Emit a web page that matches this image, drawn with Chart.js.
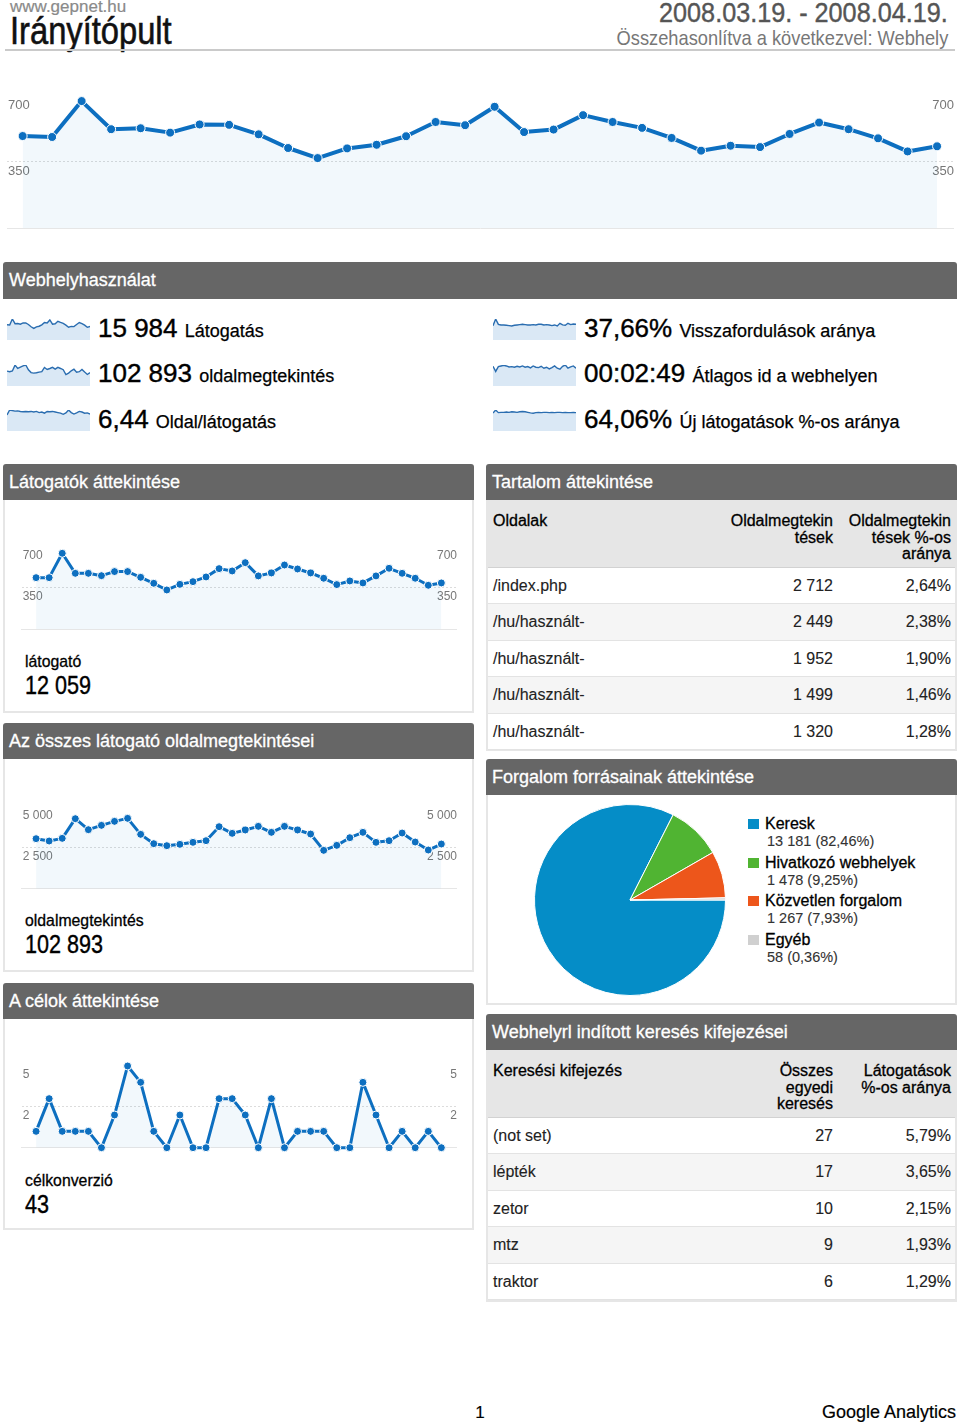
<!DOCTYPE html>
<html><head><meta charset="utf-8">
<script src="https://cdn.jsdelivr.net/npm/chart.js@4.4.1/dist/chart.umd.min.js"></script>
<style>
html,body{margin:0;padding:0;background:#fff;}
body{width:960px;height:1425px;position:relative;overflow:hidden;font-family:"Liberation Sans",Arial,Helvetica,sans-serif;color:#000;-webkit-text-stroke:0.2px;}
.abs{position:absolute;white-space:nowrap;}
.bar{position:absolute;background:#666;color:#fff;font-size:18px;height:36px;line-height:36px;padding-left:6px;box-sizing:border-box;border-radius:3px 3px 0 0;white-space:nowrap;-webkit-text-stroke:0.3px #fff;}
.box{position:absolute;border:2px solid #e6e6e6;border-top:none;box-sizing:border-box;}
canvas{position:absolute;}
.sum{position:absolute;white-space:nowrap;font-size:26px;line-height:30px;color:#000;-webkit-text-stroke:0.4px;}
.sum span{font-size:18px;-webkit-text-stroke:0.25px;}
.tbl{position:absolute;left:486px;width:471px;border:2px solid #e6e6e6;border-top:none;box-sizing:border-box;}
.th{position:absolute;left:0;top:0;width:100%;height:68px;background:#e6e6e6;border-bottom:1px solid #d2d2d2;box-sizing:border-box;font-size:16px;line-height:16.5px;-webkit-text-stroke:0.3px;}
.th div{position:absolute;top:13px;}
.tr{position:absolute;left:0;width:100%;box-sizing:border-box;border-bottom:1px solid #e3e3e3;font-size:16px;color:#222;-webkit-text-stroke:0.1px;}
.tr div{position:absolute;top:0;}
.leg{position:absolute;left:748px;white-space:nowrap;}
.leg i{position:absolute;left:0;top:5px;width:11px;height:10px;}
.leg b{position:absolute;left:17px;top:0;font-weight:normal;font-size:16px;line-height:19px;color:#000;-webkit-text-stroke:0.3px;}
.leg em{position:absolute;left:19px;top:19px;font-style:normal;font-size:14.5px;line-height:17px;color:#333;-webkit-text-stroke:0.1px;}
</style></head>
<body>
<div class="abs" style="left:10px;top:-3px;font-size:17px;line-height:20px;color:#8a8a8a;">www.gepnet.hu</div>
<div class="abs" style="left:10px;top:12px;font-size:38px;line-height:38px;color:#111;transform:scaleX(.86);transform-origin:0 0;-webkit-text-stroke:0.6px;">Irányítópult</div>
<div class="abs" style="right:12px;top:-1px;font-size:28px;line-height:28px;color:#555;transform:scaleX(.9);transform-origin:100% 0;-webkit-text-stroke:0.4px #555;">2008.03.19. - 2008.04.19.</div>
<div class="abs" style="right:12px;top:27px;font-size:21px;line-height:21px;color:#777;transform:scaleX(.87);transform-origin:100% 0;-webkit-text-stroke:0;">Összehasonlítva a következvel: Webhely</div>
<div class="abs" style="left:5px;top:49px;width:950px;height:2px;background:#cacaca;"></div>

<canvas id="mainChart" width="960" height="170" style="left:0;top:70px;"></canvas>

<div class="bar" style="left:3px;top:262px;width:954px;height:37px;line-height:37px;">Webhelyhasználat</div>
<div id="summary"></div>

<div class="bar" style="left:3px;top:464px;width:471px;">Látogatók áttekintése</div>
<div class="box" style="left:3px;top:500px;width:471px;height:213px;"></div>
<canvas id="visitorsChart" width="460" height="130" style="left:10px;top:510px;"></canvas>
<div class="abs" style="left:25px;top:652px;font-size:17px;line-height:20px;transform:scaleX(.93);transform-origin:0 0;-webkit-text-stroke:0.3px;">látogató</div>
<div class="abs" style="left:25px;top:670px;font-size:26px;line-height:30px;transform:scaleX(.83);transform-origin:0 0;-webkit-text-stroke:0.4px;">12 059</div>

<div class="bar" style="left:3px;top:723px;width:471px;">Az összes látogató oldalmegtekintései</div>
<div class="box" style="left:3px;top:759px;width:471px;height:213px;"></div>
<canvas id="pageviewsChart" width="460" height="130" style="left:10px;top:770px;"></canvas>
<div class="abs" style="left:25px;top:911px;font-size:17px;line-height:20px;transform:scaleX(.93);transform-origin:0 0;-webkit-text-stroke:0.3px;">oldalmegtekintés</div>
<div class="abs" style="left:25px;top:929px;font-size:26px;line-height:30px;transform:scaleX(.83);transform-origin:0 0;-webkit-text-stroke:0.4px;">102 893</div>

<div class="bar" style="left:3px;top:983px;width:471px;">A célok áttekintése</div>
<div class="box" style="left:3px;top:1019px;width:471px;height:211px;"></div>
<canvas id="goalsChart" width="460" height="130" style="left:10px;top:1030px;"></canvas>
<div class="abs" style="left:25px;top:1171px;font-size:17px;line-height:20px;transform:scaleX(.93);transform-origin:0 0;-webkit-text-stroke:0.3px;">célkonverzió</div>
<div class="abs" style="left:25px;top:1189px;font-size:26px;line-height:30px;transform:scaleX(.83);transform-origin:0 0;-webkit-text-stroke:0.4px;">43</div>

<div class="bar" style="left:486px;top:464px;width:471px;">Tartalom áttekintése</div>
<div id="pagesTable" class="tbl" style="top:500px;height:251px;"></div>

<div class="bar" style="left:486px;top:759px;width:471px;">Forgalom forrásainak áttekintése</div>
<div class="box" style="left:486px;top:795px;width:471px;height:210px;"></div>
<canvas id="pieChart" width="192" height="192" style="left:534px;top:804px;"></canvas>
<div id="pieLegend"></div>

<div class="bar" style="left:486px;top:1014px;width:471px;">Webhelyrl indított keresés kifejezései</div>
<div id="searchTable" class="tbl" style="top:1050px;height:252px;"></div>

<div class="abs" style="left:470px;width:20px;text-align:center;top:1401px;font-size:17px;line-height:24px;">1</div>
<div class="abs" style="right:4px;top:1400px;font-size:18px;line-height:24px;">Google Analytics</div>

<script>
// ---------------- DATA ----------------
const days = ['03.19','03.20','03.21','03.22','03.23','03.24','03.25','03.26','03.27','03.28','03.29','03.30','03.31',
  '04.01','04.02','04.03','04.04','04.05','04.06','04.07','04.08','04.09','04.10','04.11','04.12','04.13','04.14','04.15','04.16','04.17','04.18','04.19'];
const visits = [484,479,668,520,525,502,545,543,493,421,368,419,438,483,558,541,638,505,518,594,558,527,474,407,433,426,495,555,520,472,403,430];
const visitors = [438,438,646,475,475,455,490,490,441,390,333,381,404,444,515,495,566,453,478,546,512,478,433,379,410,393,453,518,475,433,373,393];
const pageviews = [3050,2907,3070,4269,3598,3863,4107,4290,3314,2745,2623,2704,2826,2928,3781,3375,3578,3802,3436,3802,3578,3334,2338,2643,3110,3436,2826,2928,3395,2846,2358,2724];
const goals = [1,3,1,1,1,0,2,5,4,1,0,2,0,0,3,3,2,0,3,0,1,1,1,0,0,4,2,0,1,0,1,0];
const pagesPerVisit = [5.6,7.3,7.1,6.9,7.0,6.8,6.7,6.8,6.7,6.8,6.6,6.8,6.4,6.6,6.2,6.8,6.7,6.8,6.6,6.4,6.2,5.8,6.3,7.3,6.4,5.9,6.3,6.8,6.6,6.2,6.3,5.9];
const bounceRate = [36.0,52.6,39.3,37.7,37.7,36.8,36.0,35.2,36.8,37.7,38.5,39.3,38.5,37.7,37.7,38.5,37.7,39.3,39.3,37.7,38.5,37.7,36.0,37.7,35.2,41.8,37.7,36.8,41.8,38.5,40.2,39.3];
const avgTime = [184,136,181,187,193,187,178,181,175,184,178,187,175,181,169,187,175,172,184,166,175,160,172,187,166,157,184,196,166,178,187,166];
const newVisits = [62,72,63,64,64,65,64,66,65,64,66,67,66,64,62,61,63,64,63,64,64,63,64,63,64,64,63,64,63,63,64,63];

const mainTicks = [0,350,700];
const visitorTicks = [0,350,700];
const pageviewTicks = [0,2500,5000];
const goalTicks = [0,2.5,5];

const summaryValues = ['15 984','102 893','6,44','37,66%','00:02:49','64,06%'];
const summaryLabels = ['Látogatás','oldalmegtekintés','Oldal/látogatás','Visszafordulások aránya','Átlagos id a webhelyen','Új látogatások %-os aránya'];
const summarySeries = [visits,pageviews,pagesPerVisit,bounceRate,avgTime,newVisits];

const pageHeaders = ['Oldalak','Oldalmegtekin<br>tések','Oldalmegtekin<br>tések %-os<br>aránya'];
const pages = ['/index.php','/hu/használt-','/hu/használt-','/hu/használt-','/hu/használt-'];
const pageViewCounts = [2712,2449,1952,1499,1320];
const pageViewPct = [2.64,2.38,1.90,1.46,1.28];

const sourceLabels = ['Keresk','Hivatkozó webhelyek','Közvetlen forgalom','Egyéb'];
const sourceValues = [13181,1478,1267,58];
const sourcePct = [82.46,9.25,7.93,0.36];
const sourceColors = ['#058dc7','#50b432','#ed561b','#d0d0d0'];

const searchHeaders = ['Keresési kifejezés','Összes<br>egyedi<br>keresés','Látogatások<br>%-os aránya'];
const searchTerms = ['(not set)','lépték','zetor','mtz','traktor'];
const searchCounts = [27,17,10,9,6];
const searchPct = [5.79,3.65,2.15,1.93,1.29];

// ---------------- HELPERS ----------------
const BLUE = '#0d6fc0';
const FILL = 'rgba(0,119,204,0.05)';
Chart.defaults.font.family = '"Liberation Sans", Arial, Helvetica, sans-serif';
const thou = v => String(v).replace(/\B(?=(\d{3})+(?!\d))/g, ' ');
const pct = v => v.toFixed(2).replace('.', ',') + '%';

function yAxis(pos, c) {
  return {
    type: 'linear', position: pos, min: 0, max: c.ymax,
    afterBuildTicks: s => { s.ticks = c.ticks.map(v => ({value: v})); },
    afterFit: s => { s.width = 0; s.paddingTop = 0; s.paddingBottom = 0; s.paddingLeft = 0; s.paddingRight = 0; },
    ticks: { mirror: true, padding: 1, labelOffset: c.lo, color: '#777', font: {size: c.fs},
      callback: v => v === 0 ? '' : c.fmt(v) },
    grid: pos === 'left'
      ? { drawTicks: false, lineWidth: 1, color: ctx => (ctx.tick && ctx.tick.value === c.ticks[1]) ? '#dcdcdc' : 'rgba(0,0,0,0)' }
      : { display: false },
    border: { display: false, dash: [2, 2] }
  };
}

function lineChart(id, data, c) {
  return new Chart(document.getElementById(id), {
    type: 'line',
    data: { datasets: [{
      data: data.map((v, i) => ({x: i, y: v})),
      borderColor: BLUE, backgroundColor: FILL, fill: 'origin',
      borderWidth: c.lw, borderJoinStyle: 'round', tension: 0,
      pointRadius: c.pr, pointBackgroundColor: BLUE, pointBorderColor: '#fff', pointBorderWidth: 1,
      clip: false
    }]},
    options: {
      responsive: false, animation: false, events: [],
      layout: { padding: c.pad },
      plugins: { legend: {display: false}, tooltip: {enabled: false} },
      scales: {
        x: { type: 'linear', min: c.xmin, max: c.xmax, display: true,
             ticks: {display: false}, grid: {display: false},
             border: {display: true, color: '#e6e6e6', width: 1},
             afterFit: s => { s.height = 0; } },
        y: yAxis('left', c),
        y2: yAxis('right', c)
      }
    }
  });
}

lineChart('mainChart', visits, {ticks: mainTicks, ymax: 779, lo: 10, fs: 13, fmt: thou, lw: 4, pr: 4.5,
  xmin: -0.53, xmax: 31.54, pad: {left: 7, right: 7, top: 10, bottom: 12}});
lineChart('visitorsChart', visitors, {ticks: visitorTicks, ymax: 930, lo: 9, fs: 12, fmt: thou, lw: 3, pr: 4,
  xmin: -1.1, xmax: 32.12, pad: {left: 11.7, right: 14, top: 10, bottom: 11}});
lineChart('pageviewsChart', pageviews, {ticks: pageviewTicks, ymax: 6628, lo: 9, fs: 12, fmt: thou, lw: 3, pr: 4,
  xmin: -1.1, xmax: 32.12, pad: {left: 11.7, right: 14, top: 10, bottom: 11.3}});
lineChart('goalsChart', goals, {ticks: goalTicks, ymax: 6.59, lo: 9, fs: 12, fmt: v => String(Math.floor(v)), lw: 3, pr: 4,
  xmin: -1.1, xmax: 32.12, pad: {left: 11.7, right: 14, top: 10, bottom: 12.3}});

// summary rows with sparklines
const sumWrap = document.getElementById('summary');
const rowBoxTop = [318, 364, 409];
const rowBaseline = [337, 382, 428];
summaryValues.forEach((val, k) => {
  const col = k < 3 ? 0 : 1, row = k % 3;
  const cv = document.createElement('canvas');
  cv.width = 83; cv.height = 22;
  cv.style.left = (col ? 493 : 7) + 'px'; cv.style.top = rowBoxTop[row] + 'px';
  sumWrap.appendChild(cv);
  const d = document.createElement('div');
  d.className = 'sum';
  d.style.left = (col ? 584 : 98) + 'px';
  d.style.top = (rowBaseline[row] - 24) + 'px';
  d.innerHTML = val + ' <span>' + summaryLabels[k] + '</span>';
  sumWrap.appendChild(d);
  const series = summarySeries[k];
  new Chart(cv, {
    type: 'line',
    data: { labels: days, datasets: [{ data: series, borderColor: '#2a6db0', borderWidth: 1.4,
      backgroundColor: '#dae8f5', fill: 'origin', pointRadius: 0, tension: 0 }]},
    options: { responsive: false, animation: false, events: [],
      layout: {padding: {top: 1}},
      plugins: {legend: {display: false}, tooltip: {enabled: false}},
      scales: { x: {type: 'category', display: false, offset: false},
                y: {display: false, min: 0, max: Math.max(...series)} } }
  });
});

// tables
function buildTable(id, headers, col1, col2, col3) {
  const t = document.getElementById(id);
  let h = '<div class="th"><div style="left:5px">' + headers[0] + '</div>' +
          '<div style="right:122px;text-align:right">' + headers[1] + '</div>' +
          '<div style="right:4px;text-align:right">' + headers[2] + '</div></div>';
  col1.forEach((name, i) => {
    const top = 68 + i * 36.4;
    h += '<div class="tr" style="top:' + top + 'px;height:36.4px;line-height:36px;background:' + (i % 2 ? '#f5f5f5' : '#fff') + '">' +
         '<div style="left:5px">' + name + '</div>' +
         '<div style="right:122px">' + col2[i] + '</div>' +
         '<div style="right:4px">' + col3[i] + '</div></div>';
  });
  t.innerHTML = h;
}
buildTable('pagesTable', pageHeaders, pages, pageViewCounts.map(thou), pageViewPct.map(pct));
buildTable('searchTable', searchHeaders, searchTerms, searchCounts.map(thou), searchPct.map(pct));

// pie
new Chart(document.getElementById('pieChart'), {
  type: 'pie',
  data: { labels: sourceLabels, datasets: [{ data: sourceValues, backgroundColor: sourceColors,
    borderColor: '#fff', borderWidth: 1, hoverOffset: 0 }]},
  options: { responsive: false, animation: false, events: [], rotation: 90,
    layout: {padding: 0}, plugins: {legend: {display: false}, tooltip: {enabled: false}} }
});
const leg = document.getElementById('pieLegend');
sourceLabels.forEach((lab, i) => {
  const d = document.createElement('div');
  d.className = 'leg';
  d.style.top = (814 + i * 38.7) + 'px';
  d.innerHTML = '<i style="background:' + sourceColors[i] + '"></i><b>' + lab + '</b><em>' +
    thou(sourceValues[i]) + ' (' + pct(sourcePct[i]) + ')</em>';
  leg.appendChild(d);
});
</script>
</body></html>
